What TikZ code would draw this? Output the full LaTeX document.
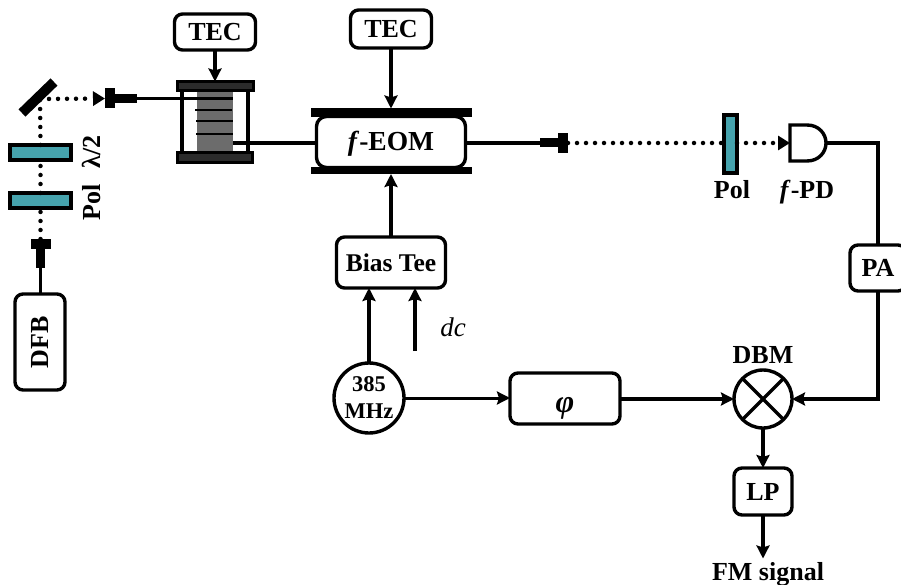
\documentclass[tikz,border=0pt]{standalone}
\usepackage{fontspec}
\setmainfont{Liberation Serif}
\usetikzlibrary{arrows.meta}
\definecolor{teal1}{HTML}{46A3AD}
\definecolor{plate}{HTML}{2B2B2B}
\tikzset{
  every node/.style={inner sep=0pt,outer sep=0pt},
  lw/.style={line width=3.4pt},
  tip/.style={-{Stealth[length=13pt,width=13pt,inset=2pt]}},
  conn/.style={lw,tip},
  wire/.style={lw},
  thinwire/.style={line width=2.8pt},
  lab/.style={font=\fontsize{26}{27}\selectfont\bfseries,text height=17pt,text depth=0pt},
  rbox/.style={draw,lw,rounded corners=8pt,fill=white,lab},
  wave/.style={draw=black,line width=3.5pt,fill=teal1},
  bar/.style={fill=black,draw=none},
  dotline/.style={line width=4.5pt,line cap=round,dash pattern=on 0pt off 9pt},
  dottip/.style={-{Triangle[length=12pt,width=14pt]}},
  heat/.style={draw=black,line width=3pt,fill=plate}
}
\begin{document}
\begin{tikzpicture}[x=1pt,y=-1pt]
\useasboundingbox (0,0) rectangle (901,585);
\coordinate (row) at (0,143);
% left optics
\node[rbox,minimum width=96pt,minimum height=50pt,rotate=90] (dfb) at (40,342) {DFB};
\node[bar,minimum width=20pt,minimum height=10pt] (c1a) at (40.5,244) {};
\node[bar,minimum width=9pt,minimum height=20pt] (c1b) at (40.5,258) {};
\draw[wire] (c1b.south) -- (c1b.south |- dfb.east);
\coordinate (mircen) at (40,99);
\draw[line width=10pt] (22,113) -- (54,82);
\node[wave,minimum width=61pt,minimum height=15pt] (pol1) at (40.5,200.5) {};
\node[wave,minimum width=61pt,minimum height=15pt] (lam) at (40.5,152.5) {};
\draw[dotline] (c1a.north) -- (pol1.south);
\draw[dotline] (pol1.north) -- (lam.south);
\draw[dotline] (lam.north) -- (mircen);
\node[lab,rotate=90] (polL) at (92,202) {Pol};
\node[lab,rotate=90] (lamL) at (92,152) {λ/2};
\node[bar,minimum width=10pt,minimum height=20pt] (c2a) at (110,98.5) {};
\node[bar,minimum width=22pt,minimum height=9pt] (c2b) at (126,98.5) {};
\draw[dotline,dottip] (mircen) -- (c2a.west);
% grating
\node[rbox,minimum width=81pt,minimum height=36pt] (tec1) at (215,32) {TEC};
\node[fill=gray!85!black,minimum width=36pt,minimum height=62pt] (fbg) at (215,122) {};
\node[heat,minimum width=76pt,minimum height=9pt] (htop) at (215,86) {};
\node[heat,minimum width=75pt,minimum height=10pt] (hbot) at (214.5,157.5) {};
\draw[wire] (182,90) -- (182,153);
\draw[wire] (248,90) -- (248,153);
\draw[thinwire] (c2b.east) -- (233,98.5);
\draw[thinwire] (195,110) -- (232,110);
\draw[thinwire] (196,121) -- (233,121);
\draw[thinwire] (196,134) -- (233,134);
\draw[conn] (tec1.south) -- (htop.north);
% EOM
\node[rbox,minimum width=149pt,minimum height=51pt,rounded corners=10pt,font=\fontsize{27.5}{28}\selectfont\bfseries] (eom) at (391,142) {\textit{f}-EOM};
\node[bar,minimum width=161pt,minimum height=9pt] (etop) at (391,113) {};
\node[bar,minimum width=161pt,minimum height=7pt] (ebot) at (391,170.5) {};
\node[rbox,minimum width=81pt,minimum height=38pt] (tec2) at (391,29) {TEC};
\draw[conn] (tec2.south) -- (etop.north);
\draw[wire] (233,143) -- (eom.west |- row);
\node[rbox,minimum width=109pt,minimum height=51pt,font=\fontsize{25.5}{26}\selectfont\bfseries] (bias) at (391,262.5) {Bias Tee};
\draw[conn] (bias.north) -- (ebot.south);
% RF
\node[draw,lw,circle,minimum size=70pt,fill=white,align=center,font=\fontsize{22.5}{27}\selectfont\bfseries] (rf) at (369,398) {385\\MHz};
\coordinate (dcend) at (415,351);
\node[font=\fontsize{27}{27}\selectfont\itshape] (dc) at (453,327) {dc};
\draw[conn] (rf.north) -- (rf.north |- bias.south);
\draw[conn] (dcend) -- (dcend |- bias.south);
\node[rbox,minimum width=110pt,minimum height=51pt] (phi) at (565,398.5) {\raisebox{-5pt}{\fontsize{32}{32}\selectfont\textit{φ}}};
\draw[conn,line width=3pt] (rf.east) -- (phi.west |- rf.east);
% output
\node[bar,minimum width=18pt,minimum height=9pt] (c3b) at (549,143) {};
\node[bar,minimum width=10pt,minimum height=20pt] (c3a) at (563,143) {};
\draw[wire] (eom.east |- row) -- (c3b.west);
\node[wave,minimum width=13pt,minimum height=58pt] (pol2) at (730.5,144) {};
\draw[dotline] (c3a.east) -- (pol2.west |- row);
\node[lab] (polR) at (732,190) {Pol};
\coordinate (pdin) at (790,143);
\coordinate (pdout) at (826,143);
\draw[dotline,dottip] (pol2.east |- row) -- (pdin);
\draw[lw,fill=white] (790,125) -- (807,125) .. controls (819,125) and (826,134) .. (pdout) .. controls (826,152) and (819,161) .. (807,161) -- (790,161) -- cycle;
\node[lab] (pdl) at (807,190) {\textit{f}-PD};
\node[rbox,minimum width=56pt,minimum height=46pt] (pa) at (878,268) {PA};
\draw[wire] (pdout) -| (pa.north);
% mixer
\node[draw,lw,circle,minimum size=58pt,fill=white] (mix) at (763,399) {};
\draw[lw] (mix.45) -- (mix.225) (mix.135) -- (mix.315);
\node[lab] (dbm) at (763,355) {DBM};
\draw[conn] (phi.east |- mix.west) -- (mix.west);
\draw[conn] (pa.south) |- (mix.east);
\node[rbox,minimum width=58pt,minimum height=47pt] (lp) at (763,491.5) {LP};
\draw[conn] (mix.south) -- (lp.north);
\node[lab] (fm) at (768,572) {FM signal};
\draw[conn,shorten >=5pt] (lp.south) -- (lp.south |- fm.north);
\end{tikzpicture}
\end{document}
